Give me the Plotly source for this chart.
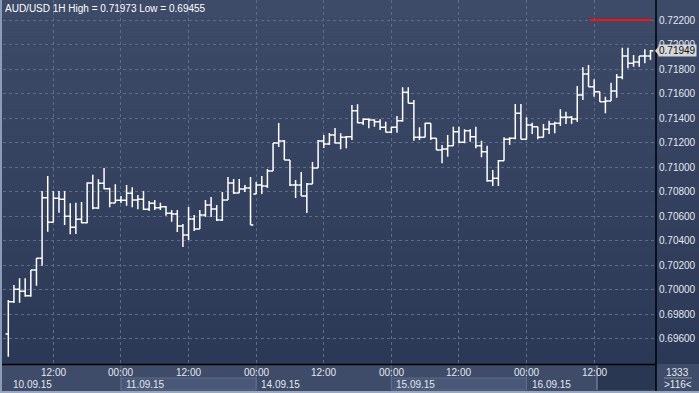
import plotly.graph_objects as go

# ---------------- data (AUD/USD, 1H bars, 10.09.15 04:00 .. 16.09.15 22:00) ----------------
opens = [0.69641, 0.69904, 0.70005, 0.69989, 0.69953, 0.70162, 0.70258, 0.70752, 0.70551, 0.70747,
         0.70739, 0.70600, 0.70510, 0.70576, 0.70548, 0.70871, 0.70668, 0.70869, 0.70825, 0.70708,
         0.70730, 0.70730, 0.70787, 0.70733, 0.70739, 0.70657, 0.70706, 0.70670, 0.70678, 0.70624,
         0.70619, 0.70521, 0.70448, 0.70578, 0.70496, 0.70611, 0.70692, 0.70659, 0.70570, 0.70733,
         0.70871, 0.70790, 0.70822, 0.70831, 0.70782, 0.70855, 0.70847, 0.70969, 0.71197, 0.71214,
         0.71059, 0.70855, 0.70855, 0.70765, 0.70863, 0.70994, 0.71214, 0.71189, 0.71263, 0.71197,
         0.71244, 0.71249, 0.71461, 0.71363, 0.71391, 0.71385, 0.71371, 0.71325, 0.71285, 0.71325,
         0.71379, 0.71611, 0.71521, 0.71244, 0.71244, 0.71358, 0.71236, 0.71140, 0.71149, 0.71175,
         0.71290, 0.71203, 0.71298, 0.71249, 0.71175, 0.71127, 0.70890, 0.70910, 0.71053, 0.71228,
         0.71236, 0.71440, 0.71228, 0.71344, 0.71330, 0.71244, 0.71309, 0.71352, 0.71358, 0.71407,
         0.71407, 0.71393, 0.71589, 0.71760, 0.71656, 0.71616, 0.71534, 0.71540, 0.71621, 0.71733,
         0.71907, 0.71847, 0.71858, 0.71907, 0.71907]
highs = [0.69918, 0.70040, 0.70095, 0.70095, 0.70162, 0.70258, 0.70806, 0.70928, 0.70806, 0.70806,
         0.70806, 0.70706, 0.70711, 0.70717, 0.70877, 0.70939, 0.70902, 0.70994, 0.70833, 0.70861,
         0.70765, 0.70855, 0.70836, 0.70774, 0.70806, 0.70725, 0.70733, 0.70711, 0.70684, 0.70651,
         0.70651, 0.70537, 0.70676, 0.70611, 0.70651, 0.70733, 0.70757, 0.70692, 0.70798, 0.70920,
         0.70904, 0.70904, 0.70855, 0.70920, 0.70880, 0.70928, 0.70986, 0.71197, 0.71360, 0.71222,
         0.71059, 0.70896, 0.70961, 0.70871, 0.71043, 0.71222, 0.71263, 0.71279, 0.71320, 0.71276,
         0.71254, 0.71507, 0.71513, 0.71399, 0.71399, 0.71391, 0.71391, 0.71371, 0.71330, 0.71418,
         0.71651, 0.71651, 0.71548, 0.71325, 0.71363, 0.71358, 0.71236, 0.71181, 0.71263, 0.71330,
         0.71330, 0.71309, 0.71309, 0.71330, 0.71216, 0.71175, 0.70977, 0.71059, 0.71244, 0.71244,
         0.71515, 0.71515, 0.71407, 0.71363, 0.71330, 0.71352, 0.71379, 0.71371, 0.71472, 0.71453,
         0.71418, 0.71662, 0.71814, 0.71833, 0.71717, 0.71616, 0.71575, 0.71689, 0.71760, 0.71973,
         0.71973, 0.71915, 0.71907, 0.71961, 0.71955]
lows = [0.69455, 0.69893, 0.69896, 0.69945, 0.69945, 0.70034, 0.70197, 0.70474, 0.70551, 0.70629,
        0.70529, 0.70453, 0.70456, 0.70543, 0.70543, 0.70657, 0.70659, 0.70820, 0.70673, 0.70708,
        0.70708, 0.70686, 0.70673, 0.70657, 0.70651, 0.70643, 0.70651, 0.70651, 0.70605, 0.70556,
        0.70472, 0.70350, 0.70407, 0.70480, 0.70496, 0.70594, 0.70594, 0.70562, 0.70562, 0.70733,
        0.70782, 0.70790, 0.70798, 0.70529, 0.70782, 0.70782, 0.70831, 0.70969, 0.71165, 0.71059,
        0.70847, 0.70749, 0.70765, 0.70627, 0.70863, 0.70994, 0.71157, 0.71181, 0.71193, 0.71146,
        0.71154, 0.71222, 0.71358, 0.71344, 0.71317, 0.71330, 0.71303, 0.71285, 0.71281, 0.71281,
        0.71371, 0.71521, 0.71216, 0.71222, 0.71244, 0.71222, 0.71140, 0.71032, 0.71086, 0.71175,
        0.71195, 0.71195, 0.71208, 0.71154, 0.71081, 0.70882, 0.70847, 0.70847, 0.71053, 0.71181,
        0.71228, 0.71228, 0.71228, 0.71271, 0.71228, 0.71244, 0.71271, 0.71276, 0.71336, 0.71352,
        0.71352, 0.71369, 0.71548, 0.71656, 0.71575, 0.71534, 0.71440, 0.71540, 0.71567, 0.71717,
        0.71806, 0.71819, 0.71819, 0.71847, 0.71874]
closes = [0.69904, 0.70005, 0.69989, 0.69953, 0.70162, 0.70258, 0.70752, 0.70551, 0.70747, 0.70739,
          0.70600, 0.70510, 0.70576, 0.70548, 0.70871, 0.70668, 0.70869, 0.70825, 0.70708, 0.70730,
          0.70730, 0.70787, 0.70733, 0.70739, 0.70657, 0.70706, 0.70670, 0.70678, 0.70624, 0.70619,
          0.70521, 0.70448, 0.70578, 0.70496, 0.70611, 0.70692, 0.70659, 0.70570, 0.70733, 0.70871,
          0.70790, 0.70822, 0.70831, 0.70529, 0.70855, 0.70847, 0.70969, 0.71197, 0.71214, 0.71059,
          0.70855, 0.70855, 0.70765, 0.70863, 0.70994, 0.71214, 0.71189, 0.71263, 0.71197, 0.71244,
          0.71249, 0.71461, 0.71363, 0.71391, 0.71385, 0.71371, 0.71325, 0.71285, 0.71325, 0.71379,
          0.71611, 0.71521, 0.71244, 0.71244, 0.71358, 0.71236, 0.71140, 0.71149, 0.71175, 0.71290,
          0.71203, 0.71298, 0.71249, 0.71175, 0.71127, 0.70890, 0.70910, 0.71053, 0.71228, 0.71236,
          0.71440, 0.71228, 0.71344, 0.71330, 0.71244, 0.71309, 0.71352, 0.71358, 0.71407, 0.71407,
          0.71393, 0.71589, 0.71760, 0.71656, 0.71616, 0.71534, 0.71540, 0.71621, 0.71733, 0.71907,
          0.71847, 0.71858, 0.71907, 0.71907, 0.71949]

time_tick_idx = [8, 20, 32, 44, 56, 68, 80, 92, 104]
time_tick_text = ["12:00", "00:00", "12:00", "00:00", "12:00", "00:00", "12:00", "00:00", "12:00"]
date_start_idx = [0, 20, 44, 68, 92]
date_labels = ["10.09.15", "11.09.15", "14.09.15", "15.09.15", "16.09.15"]
price_ticks = [0.696, 0.698, 0.700, 0.702, 0.704, 0.706, 0.708, 0.710,
               0.712, 0.714, 0.716, 0.718, 0.720, 0.722]
alert_level = 0.722
alert_start_idx = 103.2
symbol = "AUD/USD"
timeframe = "1H"
bars_total_text = "1333"
shift_text = ">116<"

# ---------------- layout helpers ----------------
W, H = 699, 393
ML, MR, MT, MB = 3, 43, 0, 29
PW, PH = W - ML - MR, H - MT - MB


def px(x):
    return (x - ML) / PW


def py(y):
    return 1 - (y - MT) / PH


FONT = "Liberation Sans, Arial, sans-serif"
FS = 10
TXT = "#e4e8ef"

n = len(closes)
xs = list(range(n))

fig = go.Figure()
fig.add_trace(go.Ohlc(
    x=xs, open=opens, high=highs, low=lows, close=closes,
    increasing=dict(line=dict(color="#ffffff", width=1.5)),
    decreasing=dict(line=dict(color="#ffffff", width=1.5)),
    tickwidth=0.5, hoverinfo="skip", showlegend=False,
))

shapes = []


def hexmix(c1, c2, t):
    a = [int(c1[i:i + 2], 16) for i in (1, 3, 5)]
    b = [int(c2[i:i + 2], 16) for i in (1, 3, 5)]
    return "#" + "".join("%02x" % round(a[k] + (b[k] - a[k]) * t) for k in range(3))


# vertical gradient background (plot + right scale area)
top_c, bot_c = "#3d4b69", "#2b3957"
NB = 40
for k in range(NB):
    y0 = 364 * k / NB
    y1 = 364 * (k + 1) / NB
    shapes.append(dict(type="rect", xref="paper", yref="paper", x0=px(0), x1=px(W),
                       y0=py(y1), y1=py(y0), fillcolor=hexmix(top_c, bot_c, k / (NB - 1)),
                       line=dict(width=0), layer="below"))

# bottom time strip
shapes.append(dict(type="rect", xref="paper", yref="paper", x0=px(0), x1=px(W), y0=py(H), y1=py(364),
                   fillcolor="#3e4c69", line=dict(width=0), layer="below"))
x_of = lambda i: 8.3 + 5.633 * i
for k in range(len(date_labels)):
    if k % 2 == 1:
        xa = x_of(date_start_idx[k])
        xb = x_of(date_start_idx[k + 1]) if k + 1 < len(date_labels) else 597
        shapes.append(dict(type="rect", xref="paper", yref="paper", x0=px(xa), x1=px(xb),
                           y0=py(390), y1=py(378), fillcolor="#4a5877",
                           line=dict(color="#5d6b88", width=1), layer="below"))
for k in range(1, len(date_labels)):
    xa = x_of(date_start_idx[k])
    shapes.append(dict(type="line", xref="paper", yref="paper", x0=px(xa), x1=px(xa),
                       y0=py(390), y1=py(365), line=dict(color="#5f6d8a", width=1)))
shapes.append(dict(type="rect", xref="paper", yref="paper", x0=px(597), x1=px(656), y0=py(390), y1=py(365),
                   fillcolor="#2a3753", line=dict(width=0), layer="below"))
shapes.append(dict(type="line", xref="paper", yref="paper", x0=px(597), x1=px(597), y0=py(390), y1=py(365),
                   line=dict(color="#6d7a92", width=1.5)))
shapes.append(dict(type="line", xref="paper", yref="paper", x0=px(0), x1=px(656), y0=py(364.5), y1=py(364.5),
                   line=dict(color="#000000", width=1.5)))
shapes.append(dict(type="line", xref="paper", yref="paper", x0=px(656), x1=px(656), y0=py(H), y1=py(0),
                   line=dict(color="#000000", width=1.5)))
shapes.append(dict(type="rect", xref="paper", yref="paper", x0=px(0), x1=px(2), y0=py(H), y1=py(0),
                   fillcolor="#8d9cb6", line=dict(width=0)))
shapes.append(dict(type="rect", xref="paper", yref="paper", x0=px(0), x1=px(W), y0=py(H), y1=py(391),
                   fillcolor="#9aa8bf", line=dict(width=0)))
shapes.append(dict(type="line", xref="paper", yref="paper", x0=px(664), x1=px(692), y0=py(378), y1=py(378),
                   line=dict(color="#8592a8", width=1)))
shapes.append(dict(type="line", xref="x", yref="y", x0=alert_start_idx, x1=n - 0.8,
                   y0=alert_level, y1=alert_level, line=dict(color="#ff1010", width=2)))
last_price = closes[-1]
d = 0.00040
shapes.append(dict(type="path", xref="paper", yref="y",
                   path=f"M {px(655)},{last_price} L {px(659)},{last_price + d} L {px(659)},{last_price - d} Z",
                   fillcolor="#d4d6da", line=dict(width=0)))

annotations = []
annotations.append(dict(xref="paper", yref="paper", x=px(3), y=py(8), xanchor="left", yanchor="middle",
                        text=f"{symbol} {timeframe} High = {max(highs):.5f} Low = {min(lows):.5f}",
                        showarrow=False, font=dict(family=FONT, size=FS, color="#ffffff")))
for i, t in zip(time_tick_idx, time_tick_text):
    annotations.append(dict(xref="x", yref="paper", x=i, y=py(372.5), xanchor="center", yanchor="middle",
                            text=t, showarrow=False, font=dict(family=FONT, size=FS, color=TXT)))
for i, t in zip(date_start_idx, date_labels):
    annotations.append(dict(xref="x", yref="paper", x=i, xshift=3, y=py(384), xanchor="left",
                            yanchor="middle", text=t, showarrow=False,
                            font=dict(family=FONT, size=FS, color=TXT)))
annotations.append(dict(xref="paper", yref="paper", x=px(677.5), y=py(372), xanchor="center", yanchor="middle",
                        text=bars_total_text, showarrow=False, font=dict(family=FONT, size=FS, color=TXT)))
annotations.append(dict(xref="paper", yref="paper", x=px(677.5), y=py(384.5), xanchor="center", yanchor="middle",
                        text=shift_text, showarrow=False, font=dict(family=FONT, size=FS, color=TXT)))
annotations.append(dict(xref="paper", yref="y", x=px(658), y=last_price, xanchor="left", yanchor="middle",
                        text=f"{last_price:.5f}", showarrow=False, bgcolor="#d4d6da",
                        borderpad=0, font=dict(family=FONT, size=FS, color="#111111")))

fig.update_layout(
    width=W, height=H,
    margin=dict(l=ML, r=MR, t=MT, b=MB, pad=0),
    paper_bgcolor="#2f3d5a", plot_bgcolor="rgba(0,0,0,0)",
    shapes=shapes, annotations=annotations, showlegend=False,
    xaxis=dict(range=[-0.94, 114.98], tickvals=time_tick_idx, showticklabels=False, ticks="",
               showgrid=True, gridcolor="#5d6c8b", griddash="3px,3px", gridwidth=1,
               zeroline=False, showline=False, rangeslider=dict(visible=False), fixedrange=True),
    yaxis=dict(range=[0.69396, 0.72363], side="right", tickvals=price_ticks, tickformat=".5f",
               ticks="", showgrid=True, gridcolor="#5d6c8b", griddash="3px,3px", gridwidth=1,
               zeroline=False, showline=False, ticklabelstandoff=2,
               tickfont=dict(family=FONT, size=FS, color=TXT), fixedrange=True),
)

fig.write_html("out.html", config={"displayModeBar": False},
               post_script="document.body.style.margin='0';document.body.style.overflow='hidden';")
